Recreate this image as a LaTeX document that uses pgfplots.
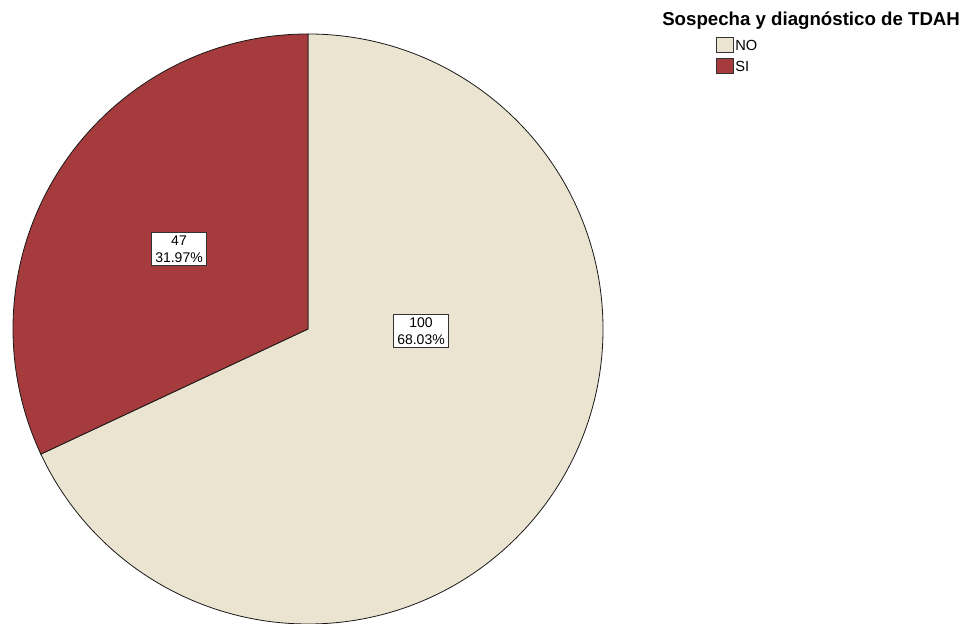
\documentclass[border=0pt]{standalone}
\usepackage{pgfplots}
\pgfplotsset{compat=1.18}
\usepackage{fontspec}
\setmainfont{Liberation Sans}
\definecolor{cNO}{RGB}{234,228,208}
\definecolor{cSI}{RGB}{165,59,60}
\begin{document}
\begin{tikzpicture}
\def\valNO{100}
\def\valSI{47}
\pgfmathsetmacro\tot{\valNO+\valSI}
\pgfmathsetmacro\angSI{\valSI/\tot*360}
\pgfmathsetmacro\endSI{90+\angSI}
\pgfmathsetmacro\pctNO{\valNO/\tot*100}
\pgfmathsetmacro\pctSI{\valSI/\tot*100}
\begin{axis}[
  scale only axis,
  width=725.25pt, height=468pt,
  xmin=0, xmax=967, ymin=0, ymax=624,
  hide axis, clip=false,
]
\path[use as bounding box] (axis cs:0,0) rectangle (axis cs:967,624);
% pie slices (radius 295 px = 221.25pt)
\fill[cNO, draw=black!90, line width=0.6pt] (axis cs:308,295) -- (axis cs:308,590)
   arc[start angle=90, end angle={\endSI-360}, radius=221.25pt] -- cycle;
\fill[cSI, draw=black!90, line width=0.6pt] (axis cs:308,295) -- (axis cs:308,590)
   arc[start angle=90, end angle=\endSI, radius=221.25pt] -- cycle;
% labels
\node[draw=black!80, fill=white, align=center, font=\fontsize{10.5}{12.5}\selectfont, inner sep=2.5pt, line width=0.7pt]
  at (axis cs:179,375) {\valSI\\\pgfmathprintnumber[assume math mode=true,fixed,precision=2,fixed zerofill]{\pctSI}\%};
\node[draw=black!80, fill=white, align=center, font=\fontsize{10.5}{12.5}\selectfont, inner sep=2.5pt, line width=0.7pt]
  at (axis cs:421,293) {\valNO\\\pgfmathprintnumber[assume math mode=true,fixed,precision=2,fixed zerofill]{\pctNO}\%};
% legend
\node[anchor=west, font=\bfseries\fontsize{14}{14}\selectfont, inner sep=0pt] at (axis cs:662,603) {Sospecha y diagnóstico de TDAH};
\fill[cNO, draw=black!80, line width=0.6pt] (axis cs:716,572) rectangle (axis cs:733,587);
\fill[cSI, draw=black!80, line width=0.6pt] (axis cs:716,551) rectangle (axis cs:733,566);
\node[anchor=west, font=\fontsize{11}{11}\selectfont, inner sep=0pt] at (axis cs:735,579) {NO};
\node[anchor=west, font=\fontsize{11}{11}\selectfont, inner sep=0pt] at (axis cs:735,558) {SI};
\end{axis}
\end{tikzpicture}
\end{document}
